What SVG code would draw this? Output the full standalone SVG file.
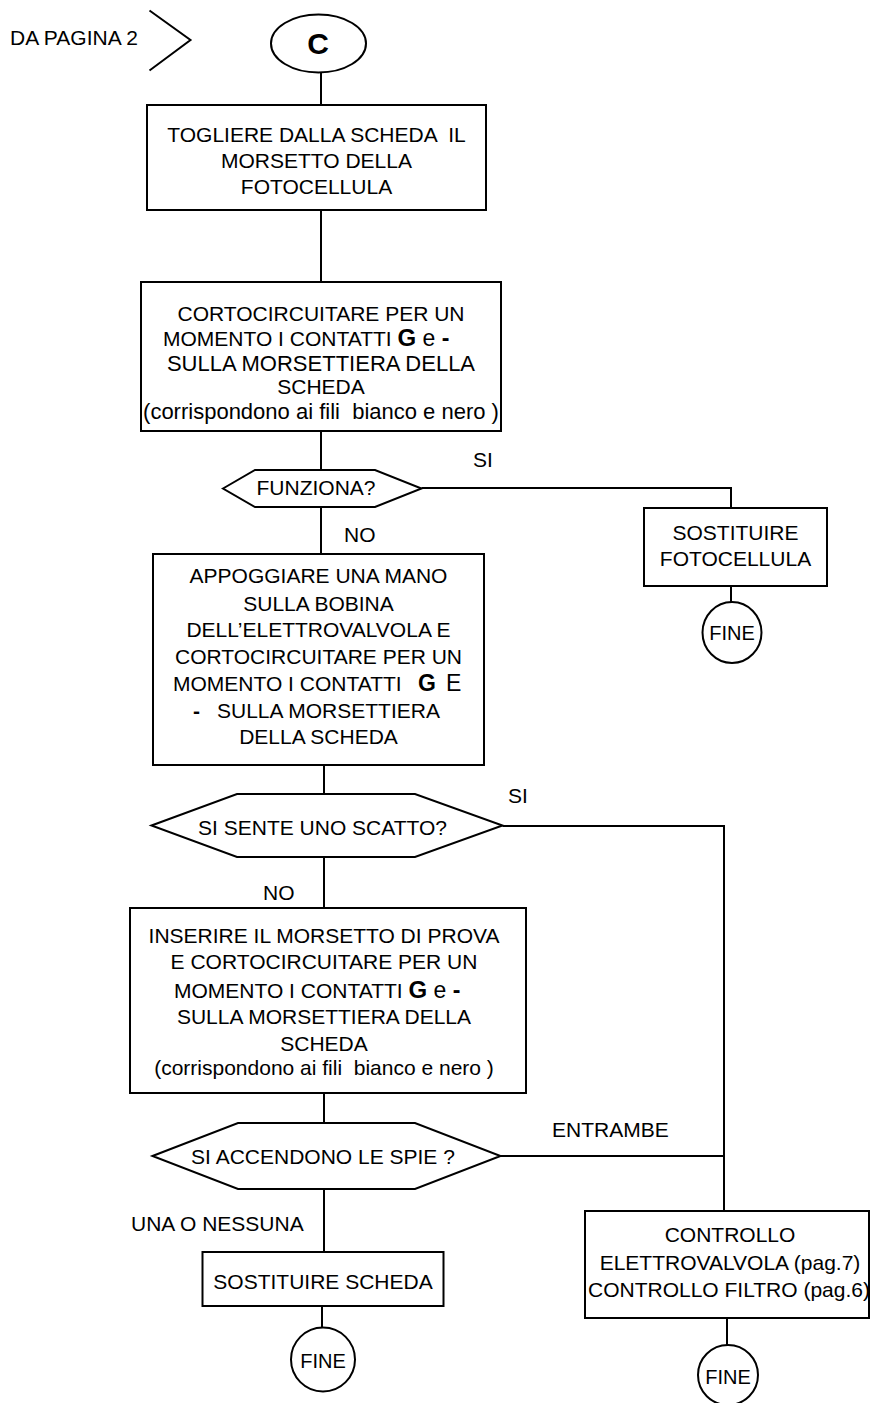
<svg xmlns="http://www.w3.org/2000/svg" width="871" height="1403" viewBox="0 0 871 1403">
<style>
  .sh { fill: #fff; stroke: #000; stroke-width: 2; }
  .ln { fill: none; stroke: #000; stroke-width: 2; }
  text { font-family: "Liberation Sans", Arial, sans-serif; font-size: 21px; fill: #000; }
  .c { text-anchor: middle; }
  .b { font-weight: bold; }
</style>
<rect width="871" height="1403" fill="#fff"/>

<g id="connectors">
  <path class="ln" d="M321,72 V105"/>
  <path class="ln" d="M321,210 V282"/>
  <path class="ln" d="M321,431 V470"/>
  <path class="ln" d="M321,507 V554"/>
  <path class="ln" d="M421.5,488 H731 V508"/>
  <path class="ln" d="M731,586 V602"/>
  <path class="ln" d="M324,765 V794"/>
  <path class="ln" d="M324,857 V908"/>
  <path class="ln" d="M502.5,826 H724 V1211"/>
  <path class="ln" d="M324,1093 V1123"/>
  <path class="ln" d="M500.5,1156 H724"/>
  <path class="ln" d="M324,1189 V1252"/>
  <path class="ln" d="M322,1306 V1327"/>
  <path class="ln" d="M727,1318 V1345"/>
</g>

<g id="labels">
  <text x="10" y="45">DA PAGINA 2</text>
  <path class="ln" d="M149.5,10.5 L190.5,40 L149.5,70.5"/>
  <text x="473" y="467">SI</text>
  <text x="344" y="542">NO</text>
  <text x="508" y="803">SI</text>
  <text x="263" y="900">NO</text>
  <text x="552" y="1137">ENTRAMBE</text>
  <text x="131" y="1231">UNA O NESSUNA</text>
</g>

<g id="start-c">
  <ellipse class="sh" cx="318.5" cy="43.5" rx="47.5" ry="29"/>
  <text class="c b" x="318" y="53.5" style="font-size:30px">C</text>
</g>

<g id="box-togliere">
  <rect class="sh" x="147" y="105" width="339" height="105"/>
  <text class="c" x="316.5" y="142" xml:space="preserve">TOGLIERE DALLA SCHEDA  IL</text>
  <text class="c" x="316.5" y="168">MORSETTO DELLA</text>
  <text class="c" x="316.5" y="193.5">FOTOCELLULA</text>
</g>

<g id="box-cortocircuitare">
  <rect class="sh" x="141" y="282" width="360" height="149"/>
  <text class="c" x="321" y="321">CORTOCIRCUITARE PER UN</text>
  <text x="163" y="346">MOMENTO I CONTATTI <tspan class="b" style="font-size:24px">G</tspan><tspan style="font-size:23px"> e </tspan><tspan class="b" style="font-size:23px">-</tspan></text>
  <text class="c" x="321" y="370.5" style="font-size:22px">SULLA MORSETTIERA DELLA</text>
  <text class="c" x="321" y="394">SCHEDA</text>
  <text class="c" x="321" y="419" xml:space="preserve" style="font-size:22px">(corrispondono ai fili  bianco e nero )</text>
</g>

<g id="dec-funziona">
  <polygon class="sh" points="223,488.5 255,470 375,470 421.5,488.5 375,507 255,507"/>
  <text class="c" x="316" y="495">FUNZIONA?</text>
</g>

<g id="box-sostituire-fotocellula">
  <rect class="sh" x="644" y="508" width="183" height="78"/>
  <text class="c" x="735.5" y="540">SOSTITUIRE</text>
  <text class="c" x="735.5" y="566">FOTOCELLULA</text>
</g>

<g id="fine-1">
  <ellipse class="sh" cx="732" cy="632.5" rx="29.5" ry="30.5"/>
  <text class="c" x="732" y="640" style="font-size:20px">FINE</text>
</g>

<g id="box-appoggiare">
  <rect class="sh" x="153" y="554" width="331" height="211"/>
  <text class="c" x="318.5" y="583">APPOGGIARE UNA MANO</text>
  <text class="c" x="318.5" y="611">SULLA BOBINA</text>
  <text class="c" x="318.5" y="637">DELL’ELETTROVALVOLA E</text>
  <text class="c" x="318.5" y="664">CORTOCIRCUITARE PER UN</text>
  <text x="173" y="691">MOMENTO I CONTATTI<tspan class="b" x="418" style="font-size:23px">G</tspan><tspan x="446" style="font-size:23px">E</tspan></text>
  <text x="193" y="717.5"><tspan class="b">-</tspan><tspan x="217">SULLA MORSETTIERA</tspan></text>
  <text class="c" x="318.5" y="744">DELLA SCHEDA</text>
</g>

<g id="dec-scatto">
  <polygon class="sh" points="151.5,825.5 237,794 415,794 502.5,825.5 415,857 237,857"/>
  <text class="c" x="322.5" y="835">SI SENTE UNO SCATTO?</text>
</g>

<g id="box-inserire">
  <rect class="sh" x="130" y="908" width="396" height="185"/>
  <text class="c" x="324" y="943">INSERIRE IL MORSETTO DI PROVA</text>
  <text class="c" x="324" y="968.5">E CORTOCIRCUITARE PER UN</text>
  <text x="174" y="997.5">MOMENTO I CONTATTI <tspan class="b" style="font-size:24px">G</tspan><tspan style="font-size:23px"> e </tspan><tspan class="b" style="font-size:23px">-</tspan></text>
  <text class="c" x="324" y="1023.5">SULLA MORSETTIERA DELLA</text>
  <text class="c" x="324" y="1050.5">SCHEDA</text>
  <text class="c" x="324" y="1075" xml:space="preserve">(corrispondono ai fili  bianco e nero )</text>
</g>

<g id="dec-spie">
  <polygon class="sh" points="152.5,1156 238,1123 415,1123 500.5,1156 415,1189 238,1189"/>
  <text class="c" x="323" y="1164">SI ACCENDONO LE SPIE ?</text>
</g>

<g id="box-sostituire-scheda">
  <rect class="sh" x="202.5" y="1252" width="241" height="54"/>
  <text class="c" x="323" y="1288.5">SOSTITUIRE SCHEDA</text>
</g>

<g id="fine-2">
  <ellipse class="sh" cx="323" cy="1359.5" rx="32" ry="32"/>
  <text class="c" x="323" y="1367.5" style="font-size:20px">FINE</text>
</g>

<g id="box-controllo">
  <rect class="sh" x="585" y="1211" width="284" height="107"/>
  <text class="c" x="730" y="1242">CONTROLLO</text>
  <text class="c" x="730" y="1269.5">ELETTROVALVOLA (pag.7)</text>
  <text class="c" x="729" y="1297">CONTROLLO FILTRO (pag.6)</text>
</g>

<g id="fine-3">
  <ellipse class="sh" cx="728" cy="1375" rx="30" ry="30"/>
  <text class="c" x="728" y="1383.5" style="font-size:20px">FINE</text>
</g>
</svg>
